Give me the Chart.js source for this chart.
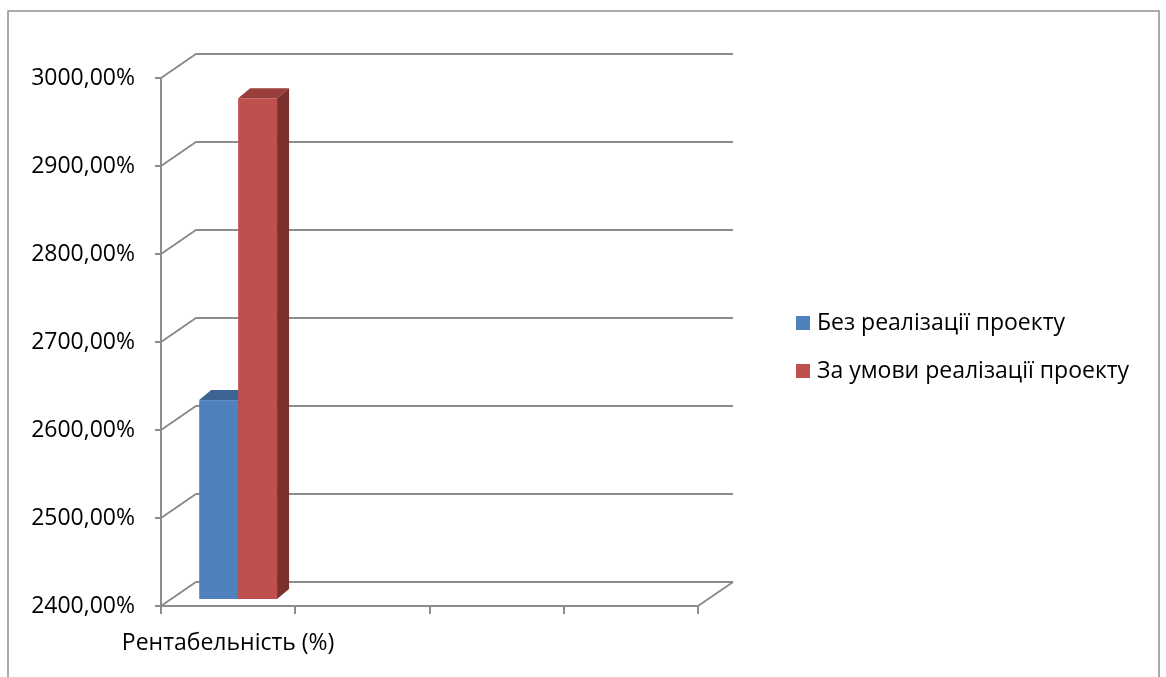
<!DOCTYPE html>
<html>
<head>
<meta charset="utf-8">
<script src="https://cdn.jsdelivr.net/npm/chart.js@4"></script>
<style>
  html, body { margin: 0; padding: 0; background: #fff; }
  #wrap { position: relative; width: 1166px; height: 677px; }
</style>
</head>
<body>
<div id="wrap"><canvas id="myChart"></canvas></div>
<script>
var categories = ['Рентабельність (%)', '', '', ''];
var seriesNames = ['Без реалізації проекту', 'За умови реалізації проекту'];
var withoutProject = [2626, null, null, null];
var withProject = [2969, null, null, null];
var yMin = 2400, yMax = 3000, yStep = 100;

// colours of the three visible faces of each column
var frontColors = ['#4F81BD', '#C0504D'];
var topColors = ['#3D6593', '#983E3B'];
var sideColors = ['#385D8A', '#7B302E'];
var gridColor = '#8C8C8C';
var fontFamily = "'Open Sans', 'Liberation Sans', sans-serif";

// depth of the box (back wall offset) and of the columns
var wallDx = 35, wallDy = 24;
var barShiftX = 10, barShiftY = 7;
var barDx = 12, barDy = 10;

function pct(v) {
    return v.toFixed(2).replace('.', ',') + '%';
}

var box3d = {
    id: 'box3d',
    beforeDatasetsDraw: function(chart) {
        var ctx = chart.ctx, a = chart.chartArea, y = chart.scales.y;

        // back wall grid lines with the diagonals to the front axis
        ctx.save();
        ctx.strokeStyle = gridColor;
        ctx.lineWidth = 2;
        y.ticks.forEach(function(t) {
            var py = y.getPixelForValue(t.value);
            ctx.beginPath();
            ctx.moveTo(a.left, py);
            ctx.lineTo(a.left + wallDx, py - wallDy);
            ctx.lineTo(a.right + wallDx, py - wallDy);
            ctx.stroke();
        });
        // right edge of the floor
        ctx.beginPath();
        ctx.moveTo(a.right, a.bottom);
        ctx.lineTo(a.right + wallDx, a.bottom - wallDy);
        ctx.stroke();
        ctx.restore();

        // columns stand on the floor, drawn in series order so the later one sits in front
        var base = y.getPixelForValue(yMin);
        ctx.save();
        ctx.translate(barShiftX, -barShiftY);
        chart.data.datasets.forEach(function(ds, i) {
            var meta = chart.getDatasetMeta(i);
            meta.data.forEach(function(bar, j) {
                if (ds.data[j] == null) return;
                var p = bar.getProps(['x', 'y', 'width']);
                var l = p.x - p.width / 2, r = p.x + p.width / 2;
                ctx.fillStyle = frontColors[i];
                ctx.fillRect(l, p.y, r - l, base - p.y);
                ctx.fillStyle = topColors[i];
                ctx.beginPath();
                ctx.moveTo(l, p.y);
                ctx.lineTo(l + barDx, p.y - barDy);
                ctx.lineTo(r + barDx, p.y - barDy);
                ctx.lineTo(r, p.y);
                ctx.closePath();
                ctx.fill();
                ctx.fillStyle = sideColors[i];
                ctx.beginPath();
                ctx.moveTo(r, p.y);
                ctx.lineTo(r + barDx, p.y - barDy);
                ctx.lineTo(r + barDx, base - barDy);
                ctx.lineTo(r, base);
                ctx.closePath();
                ctx.fill();
            });
        });
        ctx.restore();
        return false;
    },
    afterDraw: function(chart) {
        var ctx = chart.ctx;
        ctx.save();
        // legend on the right
        ctx.font = '23px ' + fontFamily;
        ctx.textBaseline = 'middle';
        ctx.textAlign = 'left';
        chart.data.datasets.forEach(function(ds, i) {
            var cy = 323 + i * 48;
            ctx.fillStyle = frontColors[i];
            ctx.fillRect(796, cy - 7, 14, 14);
            ctx.fillStyle = '#000';
            ctx.fillText(ds.label, 817, cy);
        });
        // frame around the chart
        ctx.strokeStyle = '#8E8E8E';
        ctx.lineWidth = 1.5;
        ctx.beginPath();
        ctx.moveTo(8, 700);
        ctx.lineTo(8, 11);
        ctx.lineTo(1159, 11);
        ctx.lineTo(1159, 700);
        ctx.stroke();
        ctx.restore();
    }
};

var ctx = document.getElementById('myChart').getContext('2d');
var chart = new Chart(ctx, {
    type: 'bar',
    data: {
        labels: categories,
        datasets: [{
            label: seriesNames[0],
            data: withoutProject,
            backgroundColor: frontColors[0]
        }, {
            label: seriesNames[1],
            data: withProject,
            backgroundColor: frontColors[1]
        }]
    },
    options: {
        responsive: true,
        maintainAspectRatio: false,
        animation: false,
        barPercentage: 1,
        categoryPercentage: 0.58,
        layout: { padding: { left: 0, top: 78, right: 468, bottom: 0 } },
        plugins: {
            legend: { display: false },
            tooltip: { enabled: false }
        },
        scales: {
            x: {
                offset: true,
                grid: { offset: true, drawOnChartArea: false, tickLength: 8, color: gridColor, lineWidth: 2 },
                border: { color: gridColor, width: 2 },
                ticks: {
                    autoSkip: false, maxRotation: 0, minRotation: 0, padding: 16,
                    color: '#000', font: { family: fontFamily, size: 23 }
                },
                afterFit: function(s) { s.height = 71; }
            },
            y: {
                min: yMin,
                max: yMax,
                grid: { drawOnChartArea: false, tickLength: 6, color: gridColor, lineWidth: 2 },
                border: { color: gridColor, width: 2 },
                ticks: {
                    stepSize: yStep, padding: 20, color: '#000',
                    font: { family: fontFamily, size: 23 },
                    callback: function(v) { return pct(v); }
                },
                afterFit: function(s) { s.width = 161; }
            }
        }
    },
    plugins: [box3d]
});
</script>
</body>
</html>
